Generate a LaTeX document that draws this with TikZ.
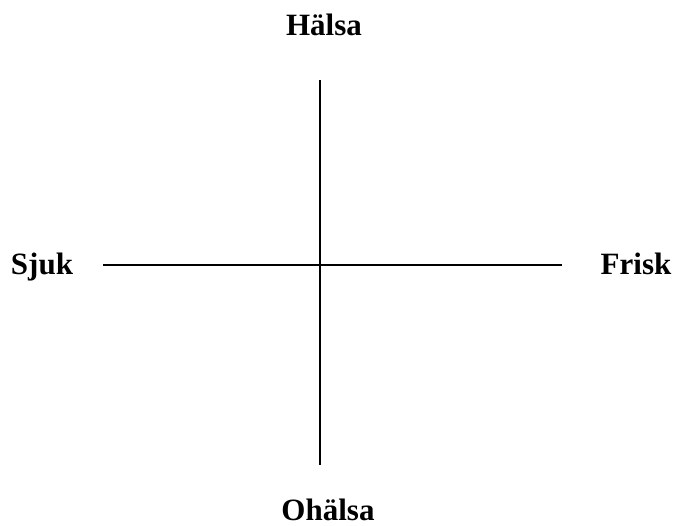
\documentclass[tikz,border=0pt]{standalone}
\usepackage{fontspec}
\setmainfont{Liberation Serif}
\begin{document}
\begin{tikzpicture}[x=1pt,y=-1pt,
  lbl/.style={font=\fontsize{31}{36}\selectfont\bfseries, inner sep=0pt, anchor=base},
  axis/.style={line width=1.3pt}]
\useasboundingbox (0,0) rectangle (675,526);
\node[lbl] (top) at (324,36) {Hälsa};
\node[lbl] (bot) at (328,520) {Ohälsa};
\node[lbl] (left) at (42,275) {Sjuk};
\node[lbl] (right) at (636,275) {Frisk};
\coordinate (vt) at (320,80);
\coordinate (vb) at (320,465);
\coordinate (hl) at (103,265);
\coordinate (hr) at (562,265);
\draw[axis] (vt) -- (vb);
\draw[axis] (hl) -- (hr);
\end{tikzpicture}
\end{document}
